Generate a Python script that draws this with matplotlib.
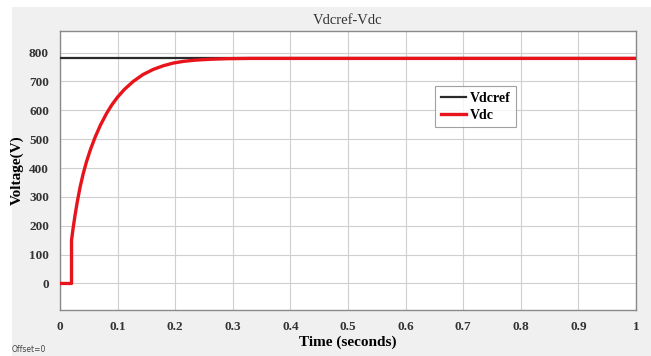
import matplotlib
matplotlib.use("Agg")
import matplotlib.pyplot as plt
from matplotlib.patches import Rectangle

# Data
t_ref = [0.0, 1.0]
v_ref = [780, 780]

t_dc = [0.0, 0.02, 0.02, 0.023, 0.026, 0.030, 0.035, 0.040, 0.046, 0.053, 0.061,
        0.070, 0.081, 0.090, 0.100, 0.112, 0.127, 0.144, 0.162, 0.180, 0.197,
        0.215, 0.235, 0.26, 0.29, 0.33, 0.40, 1.0]
v_dc = [0, 0, 150, 195, 235, 283, 335, 378, 422, 465, 507,
        548, 590, 619, 646, 673, 700, 724, 742, 755, 764,
        770, 774, 777, 779, 780, 780, 780]

xticks = [0, 0.1, 0.2, 0.3, 0.4, 0.5, 0.6, 0.7, 0.8, 0.9, 1]
xticklabels = ["0", "0.1", "0.2", "0.3", "0.4", "0.5", "0.6", "0.7", "0.8", "0.9", "1"]
yticks = [0, 100, 200, 300, 400, 500, 600, 700, 800]

plt.rcParams['font.family'] = ['Liberation Serif', 'DejaVu Serif']

fig = plt.figure(figsize=(6.51, 3.56), dpi=100)
fig.patch.set_facecolor('white')
fig.patches.append(Rectangle((12/651, 0), 1 - 12/651, 1 - 7/356, transform=fig.transFigure,
                             facecolor='#f0f0f0', edgecolor='none', zorder=-10))

ax = fig.add_axes([60/651, 1 - 310/356, (636 - 60)/651, (310 - 31)/356])
ax.set_facecolor('white')
ax.plot(t_ref, v_ref, color='#2a2a2a', lw=1.6, label='Vdcref', zorder=3)
ax.plot(t_dc, v_dc, color='#e8141c', lw=2.4, label='Vdc', zorder=4)

ax.set_xlim(0, 1)
ax.set_ylim(-92, 875)
ax.set_xticks(xticks)
ax.set_xticklabels(xticklabels)
ax.set_yticks(yticks)
ax.grid(True, color='#cfcfcf', lw=0.8)
ax.tick_params(length=0, labelsize=9.5, pad=8)
for lab in ax.get_xticklabels() + ax.get_yticklabels():
    lab.set_fontweight('bold')
    lab.set_color('#333333')
for s in ax.spines.values():
    s.set_color('#8a8a8a')
    s.set_linewidth(1.0)

ax.set_title('Vdcref-Vdc', fontsize=10.5, color='#333333', pad=5)
ax.set_xlabel('Time (seconds)', fontsize=11, fontweight='bold', labelpad=2)
ax.set_ylabel('Voltage(V)', fontsize=11, fontweight='bold', labelpad=4)

leg = ax.legend(loc='upper left', bbox_to_anchor=((435 - 60)/576, (310 - 86)/279),
                prop={'weight': 'bold', 'size': 10}, frameon=True,
                fancybox=False, handlelength=1.8, handletextpad=0.3,
                borderpad=0.4, labelspacing=0.3, borderaxespad=0)
leg.get_frame().set_edgecolor('#8a8a8a')
leg.get_frame().set_linewidth(0.8)

fig.text(12/651, 1 - 349/356, 'Offset=0', fontsize=5.5, color='#444444', va='center',
         family=['DejaVu Sans'])

fig.savefig('out.png', dpi=100)
